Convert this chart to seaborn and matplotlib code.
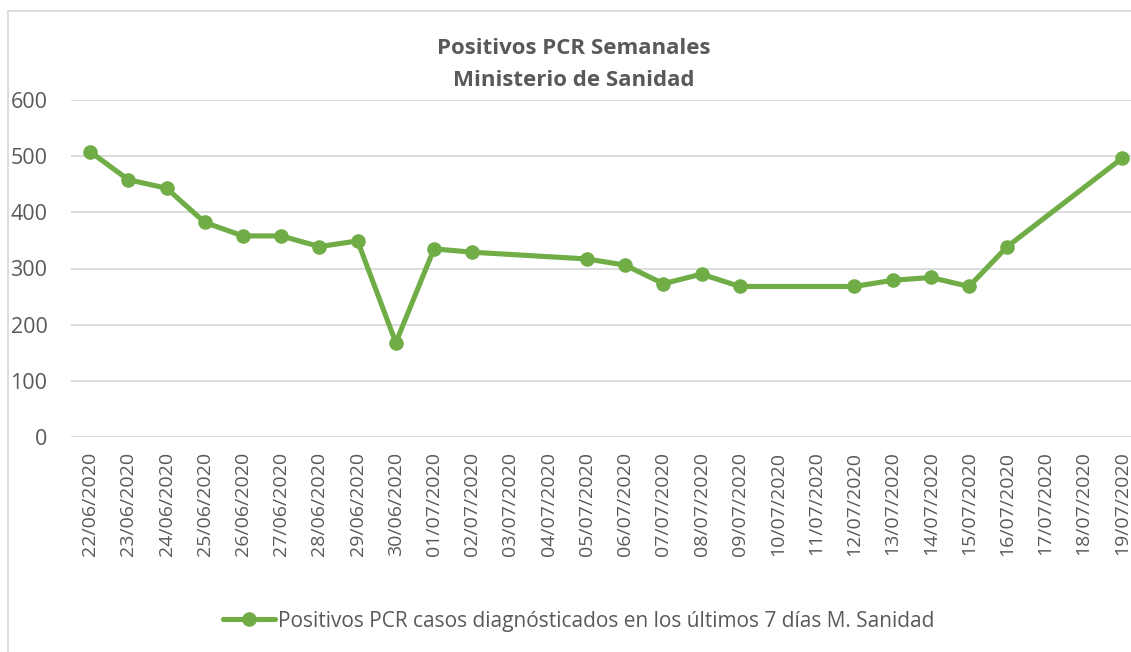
import matplotlib
matplotlib.use("Agg")
import matplotlib.pyplot as plt
import matplotlib.dates as mdates
from matplotlib.patches import Rectangle
from matplotlib.lines import Line2D
import seaborn as sns
import pandas as pd

dates = ["22/06/2020", "23/06/2020", "24/06/2020", "25/06/2020", "26/06/2020",
         "27/06/2020", "28/06/2020", "29/06/2020", "30/06/2020", "01/07/2020",
         "02/07/2020", "05/07/2020", "06/07/2020", "07/07/2020", "08/07/2020",
         "09/07/2020", "12/07/2020", "13/07/2020", "14/07/2020", "15/07/2020",
         "16/07/2020", "19/07/2020"]
values = [508, 458, 443, 382, 358, 358, 339, 349, 168, 335,
          329, 317, 306, 273, 290, 268, 268, 279, 284, 268,
          339, 496]
series_name = "Positivos PCR casos diagnósticados en los últimos 7 días M. Sanidad"
title_lines = ["Positivos PCR Semanales", "Ministerio de Sanidad"]
yticks = [0, 100, 200, 300, 400, 500, 600]

sns.set_style("white")
plt.rcParams['font.family'] = ['Open Sans', 'DejaVu Sans']

df = pd.DataFrame({"fecha": pd.to_datetime(dates, format="%d/%m/%Y"), "valor": values})

W, H = 1131, 652
fig = plt.figure(figsize=(W / 100, H / 100), dpi=100)
ax = fig.add_axes([71 / W, (H - 437) / H, (1141 - 71) / W, (437 - 100) / H])

green = "#70AD47"
txt = "#595959"
grid = "#D9D9D9"

sns.lineplot(data=df, x="fecha", y="valor", ax=ax, color=green, linewidth=3.7,
             marker="o", markersize=10.5, markeredgewidth=0, legend=False, zorder=3)

all_days = pd.date_range(df["fecha"].min(), df["fecha"].max(), freq="D")
ax.set_xticks(all_days)
ax.xaxis.set_major_formatter(mdates.DateFormatter("%d/%m/%Y"))
ax.set_xlim(all_days[0] - pd.Timedelta(hours=12), all_days[-1] + pd.Timedelta(hours=12))
ax.set_ylim(0, 600)
ax.set_yticks(yticks)

for s in ax.spines.values():
    s.set_visible(False)
ax.grid(axis="y", color=grid, linewidth=1.3)
ax.grid(axis="x", visible=False)
ax.set_xlabel("")
ax.set_ylabel("")
ax.tick_params(axis="x", length=0, pad=10.5, labelsize=14, labelcolor=txt, rotation=90)
ax.tick_params(axis="y", length=0, pad=17, labelsize=15.5, labelcolor=txt)
for lbl in ax.get_xticklabels():
    lbl.set_va("top")
    lbl.set_ha("center")

fig.text(574 / W, 1 - 48 / H, title_lines[0], ha="center", va="center",
         fontsize=16, fontweight="bold", color=txt)
fig.text(574 / W, 1 - 80 / H, title_lines[1], ha="center", va="center",
         fontsize=16, fontweight="bold", color=txt)

handle = Line2D([], [], color=green, linewidth=3.7, marker="o", markersize=10.5,
                markeredgewidth=0)
fig.legend([handle], [series_name], loc="center", bbox_to_anchor=(579 / W, 1 - 621 / H),
           frameon=False, fontsize=15, labelcolor=txt, handlelength=2.5,
           handletextpad=0.15)

fig.patches.append(Rectangle((8 / W, -0.1), 1.2, 1 - 11 / H + 0.1, transform=fig.transFigure,
                             fill=False, edgecolor="#D9D9D9", linewidth=1.3))

fig.savefig("out.png", dpi=100)
